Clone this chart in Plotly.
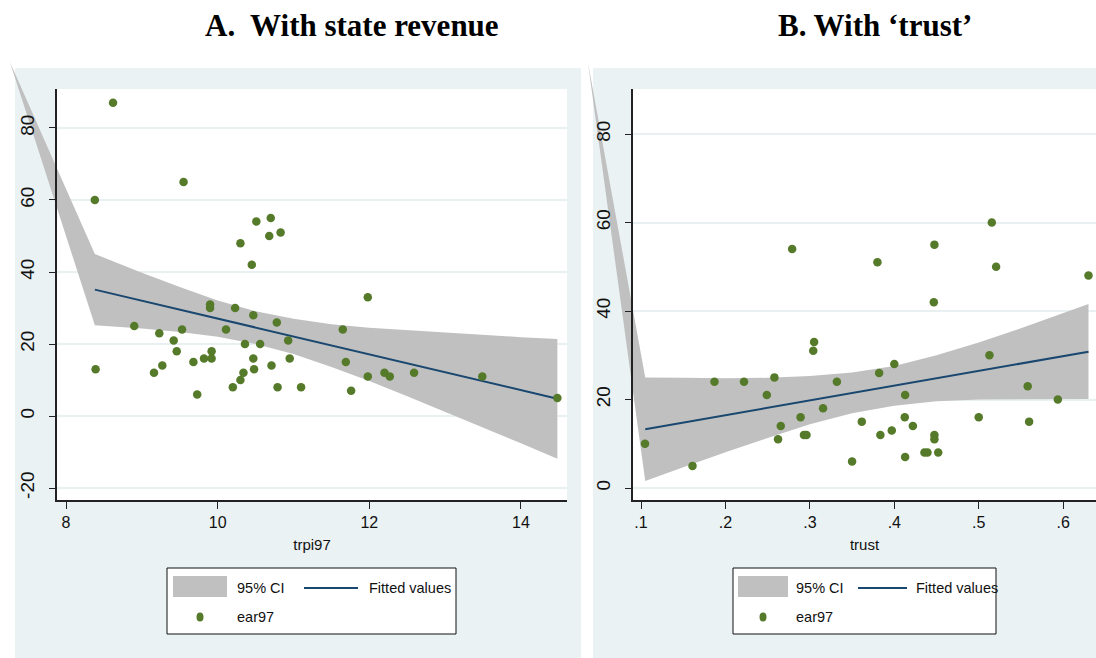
import plotly.graph_objects as go

W, H = 1096, 658

# ---------------- Panel A: ear97 against state revenue (trpi97) ----------------
trpi97 = [8.62, 8.38, 9.55, 10.51, 10.70, 10.30, 10.68, 10.83, 10.45, 9.90,
          9.90, 10.23, 10.47, 10.78, 8.39, 8.90, 9.23, 9.53, 9.42, 9.46,
          9.27, 9.16, 9.68, 9.73, 9.82, 9.92, 9.92, 10.11, 10.36, 10.56,
          10.47, 10.48, 10.34, 10.30, 10.20, 10.71, 10.79, 10.93, 10.95, 11.10,
          11.65, 11.69, 11.76, 11.98, 11.98, 12.20, 12.27, 12.59, 13.49, 14.48]
ear97_a = [87, 60, 65, 54, 55, 48, 50, 51, 42, 31,
           30, 30, 28, 26, 13, 25, 23, 24, 21, 18,
           14, 12, 15, 6, 16, 18, 16, 24, 20, 20,
           16, 13, 12, 10, 8, 14, 8, 21, 16, 8,
           24, 15, 7, 11, 33, 12, 11, 12, 11, 5]

# fitted values and 95% CI (first CI vertex is the stray point of the band polygon)
fit_x_a = [8.38, 14.48]
fit_y_a = [35.1, 4.8]
ci_x_a = [7.26, 8.38, 9.0, 9.5, 10.0, 10.5, 11.0, 11.5, 12.0, 12.5, 13.0, 13.5, 14.0, 14.48]
ci_hi_a = [98.3, 45.0, 39.8, 35.8, 32.1, 29.1, 27.0, 25.5, 24.5, 23.8, 23.1, 22.5, 21.9, 21.4]
ci_lo_a = [98.3, 25.2, 24.3, 23.3, 22.0, 20.0, 17.2, 13.6, 9.7, 5.5, 1.2, -3.2, -7.6, -11.9]

xticks_a = [8, 10, 12, 14]
yticks_a = [-20, 0, 20, 40, 60, 80]
yticklabels_a = ["-20", "0", "20", "40", "60", "80"]

# ---------------- Panel B: ear97 against 'trust' ----------------
trust = [0.279, 0.5155, 0.4475, 0.380, 0.5206, 0.630, 0.4468,
         0.1047, 0.161, 0.187, 0.222, 0.249, 0.258, 0.2655, 0.2623, 0.289,
         0.293, 0.296, 0.304, 0.305, 0.3156, 0.332,
         0.350, 0.3615, 0.382, 0.3835, 0.400, 0.397, 0.4128, 0.4124, 0.422,
         0.4128, 0.4357, 0.4393, 0.4475, 0.4475, 0.452, 0.500, 0.5127, 0.558,
         0.5597, 0.5937]
ear97_b = [54, 60, 55, 51, 50, 48, 42,
           10, 5, 24, 24, 21, 25, 14, 11, 16,
           12, 12, 31, 33, 18, 24,
           6, 15, 26, 12, 28, 13, 21, 16, 14,
           7, 8, 8, 12, 11, 8, 16, 30, 23,
           15, 20]

fit_x_b = [0.105, 0.63]
fit_y_b = [13.3, 30.8]
ci_x_b = [0.037, 0.105, 0.15, 0.2, 0.25, 0.3, 0.35, 0.4, 0.45, 0.5, 0.55, 0.6, 0.63]
ci_hi_b = [96.3, 25.0, 24.9, 24.8, 24.9, 25.3, 26.1, 27.6, 30.0, 32.9, 36.1, 39.5, 41.6]
ci_lo_b = [96.3, 1.6, 4.7, 8.1, 11.3, 14.4, 16.9, 18.6, 19.6, 20.0, 20.1, 20.1, 20.1]

xticks_b = [0.1, 0.2, 0.3, 0.4, 0.5, 0.6]
xticklabels_b = [".1", ".2", ".3", ".4", ".5", ".6"]
yticks_b = [0, 20, 40, 60, 80]
yticklabels_b = ["0", "20", "40", "60", "80"]

# ---------------- styling ----------------
PANEL_BG = "#EAF2F3"
GRID = "#E8F0F1"
BAND = "#C0C0C0"
LINE = "#1A476F"
DOT = "#557A2A"
AXIS = "#222222"
SANS = "Liberation Sans, Arial, sans-serif"
SERIF = "Liberation Serif, Times New Roman, serif"


def fx(p):
    return p / W


def fy(p):
    return 1 - p / H


# pixel boxes: (left, top, right, bottom)
panels = {
    "A": dict(outer=(15, 68, 581, 658), plot=(57, 89, 567, 500),
              draw=(0, 55, 586, 658), xr=(7.881, 14.607), yr=(-23.33, 90.83)),
    "B": dict(outer=(593, 68, 1096, 658), plot=(633, 89, 1096, 500),
              draw=(580, 55, 1096, 658), xr=(0.0905, 0.6389), yr=(-2.71, 90.17)),
}


def extended_range(p):
    """Ranges for the drawing axes so that data coordinates coincide with the framed axes."""
    l, t, r, b = p["plot"]
    dl, dt, dr, db = p["draw"]
    sx = (p["xr"][1] - p["xr"][0]) / (r - l)
    sy = (p["yr"][1] - p["yr"][0]) / (b - t)
    xr = [p["xr"][0] + (dl - l) * sx, p["xr"][0] + (dr - l) * sx]
    yr = [p["yr"][0] - (db - b) * sy, p["yr"][0] + (b - dt) * sy]
    return xr, yr


def dom(box):
    l, t, r, b = box
    return [fx(l), fx(r)], [fy(b), fy(t)]


fig = go.Figure()

# empty traces fix the drawing order: grid subplots, data subplots, axis subplots
for k in ["", "2", "3", "4", "5", "6"]:
    fig.add_trace(go.Scatter(x=[None], y=[None], xaxis="x" + k, yaxis="y" + k,
                             showlegend=False, hoverinfo="skip"))

specs = [
    ("3", trpi97, ear97_a, fit_x_a, fit_y_a, ci_x_a, ci_hi_a, ci_lo_a),
    ("4", trust, ear97_b, fit_x_b, fit_y_b, ci_x_b, ci_hi_b, ci_lo_b),
]
for k, xs, ys, fxs, fys, cx, chi, clo in specs:
    fig.add_trace(go.Scatter(
        x=cx + cx[::-1], y=chi + clo[::-1], fill="toself", fillcolor=BAND,
        line=dict(width=0), mode="lines", xaxis="x" + k, yaxis="y" + k,
        showlegend=False, hoverinfo="skip"))
    fig.add_trace(go.Scatter(
        x=fxs, y=fys, mode="lines", line=dict(color=LINE, width=2),
        xaxis="x" + k, yaxis="y" + k, showlegend=False))
    fig.add_trace(go.Scatter(
        x=xs, y=ys, mode="markers", marker=dict(color=DOT, size=8.5, line=dict(width=0)),
        xaxis="x" + k, yaxis="y" + k, showlegend=False))

layout = dict(
    width=W, height=H, margin=dict(l=0, r=0, t=0, b=0),
    paper_bgcolor="white", plot_bgcolor="rgba(0,0,0,0)", showlegend=False,
)

shapes = []
annotations = []

axis_defs = [
    ("A", "", "3", "5", xticks_a, [str(v) for v in xticks_a], yticks_a, yticklabels_a, "trpi97"),
    ("B", "2", "4", "6", xticks_b, xticklabels_b, yticks_b, yticklabels_b, "trust"),
]
for key, gk, dk, ak, xt, xtl, yt, ytl, xtitle in axis_defs:
    p = panels[key]
    xd, yd = dom(p["plot"])
    # grid layer
    layout["xaxis" + gk] = dict(domain=xd, range=list(p["xr"]), anchor="y" + gk,
                                visible=False, fixedrange=True)
    layout["yaxis" + gk] = dict(domain=yd, range=list(p["yr"]), anchor="x" + gk,
                                tickvals=yt, showticklabels=False, ticks="",
                                showgrid=True, gridcolor=GRID, gridwidth=2,
                                zeroline=False, showline=False, fixedrange=True)
    # data layer (extends past the frame)
    exr, eyr = extended_range(p)
    dxd, dyd = dom(p["draw"])
    layout["xaxis" + dk] = dict(domain=dxd, range=exr, anchor="y" + dk, visible=False)
    layout["yaxis" + dk] = dict(domain=dyd, range=eyr, anchor="x" + dk, visible=False)
    # axis layer
    layout["xaxis" + ak] = dict(
        domain=xd, range=list(p["xr"]), anchor="y" + ak,
        tickvals=xt, ticktext=xtl, ticks="outside", ticklen=7, tickwidth=1.3,
        tickcolor=AXIS, showline=True, linecolor=AXIS, linewidth=1.5,
        showgrid=False, zeroline=False,
        tickfont=dict(family=SANS, size=16, color="#111"),
        title=dict(text=xtitle, font=dict(family=SANS, size=15, color="#111"), standoff=10),
    )
    layout["yaxis" + ak] = dict(
        domain=yd, range=list(p["yr"]), anchor="x" + ak,
        tickvals=yt, ticktext=ytl, ticks="outside", ticklen=6, tickwidth=1.3, tickcolor=AXIS,
        showline=True, linecolor=AXIS, linewidth=1.5, showgrid=False, zeroline=False,
        tickangle=-90, ticklabelstandoff=8,
        tickfont=dict(family=SANS, size=19, color="#111"),
    )

    # panel background and white plot area
    ol, ot, orr, ob = p["outer"]
    shapes.append(dict(type="rect", xref="paper", yref="paper", layer="below",
                       x0=fx(ol), x1=fx(orr), y0=fy(ob), y1=fy(ot),
                       fillcolor=PANEL_BG, line=dict(width=0)))
    pl, pt, pr, pb = p["plot"]
    shapes.append(dict(type="rect", xref="paper", yref="paper", layer="below",
                       x0=fx(pl), x1=fx(pr), y0=fy(pb), y1=fy(pt),
                       fillcolor="white", line=dict(width=0)))

# legends
legends = [
    dict(box=(167, 568, 456, 634), sw=(173, 576, 227, 597), ci_x=235,
         ln=(304, 358), fit_x=367, dot=200),
    dict(box=(733, 568, 996, 634), sw=(738, 576, 788, 597), ci_x=794,
         ln=(858, 907), fit_x=914, dot=763),
]
row1, row2 = 588, 617
for lg in legends:
    l, t, r, b = lg["box"]
    shapes.append(dict(type="rect", xref="paper", yref="paper", layer="above",
                       x0=fx(l), x1=fx(r), y0=fy(b), y1=fy(t),
                       fillcolor="white", line=dict(color="#111", width=1)))
    l, t, r, b = lg["sw"]
    shapes.append(dict(type="rect", xref="paper", yref="paper", layer="above",
                       x0=fx(l), x1=fx(r), y0=fy(b), y1=fy(t),
                       fillcolor=BAND, line=dict(width=0)))
    a, c = lg["ln"]
    shapes.append(dict(type="line", xref="paper", yref="paper", layer="above",
                       x0=fx(a), x1=fx(c), y0=fy(row1), y1=fy(row1),
                       line=dict(color=LINE, width=2)))
    d = lg["dot"]
    shapes.append(dict(type="circle", xref="paper", yref="paper", layer="above",
                       x0=fx(d - 3.5), x1=fx(d + 3.5), y0=fy(row2 + 4.5), y1=fy(row2 - 4.5),
                       fillcolor=DOT, line=dict(width=0)))
    for txt, xx, yy in [("95% CI", lg["ci_x"], row1), ("Fitted values", lg["fit_x"], row1),
                        ("ear97", lg["ci_x"], row2)]:
        annotations.append(dict(text=txt, x=fx(xx), y=fy(yy), xref="paper", yref="paper",
                                xanchor="left", yanchor="middle", showarrow=False,
                                font=dict(family=SANS, size=14.5, color="#111")))

# panel headings
for txt, cx in [("A.\u00a0 With state revenue", 351.5), ("B. With \u2018trust\u2019", 875.5)]:
    annotations.append(dict(text="<b>" + txt + "</b>", x=fx(cx), y=fy(25), xref="paper",
                            yref="paper", xanchor="center", yanchor="middle", showarrow=False,
                            font=dict(family=SERIF, size=31, color="black")))

layout["shapes"] = shapes
layout["annotations"] = annotations
fig.update_layout(**layout)
fig.write_html("out.html")
